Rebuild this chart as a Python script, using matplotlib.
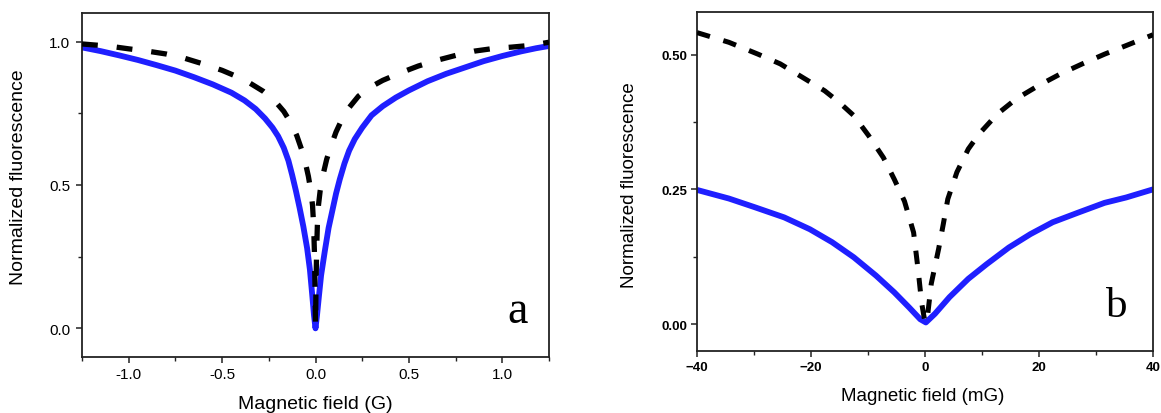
import matplotlib
matplotlib.use("Agg")
import matplotlib.pyplot as plt
from matplotlib.ticker import MultipleLocator, FormatStrFormatter

# ---------------- data: panel a (field in G) ----------------
a_blue_B = [-1.25, -1.15, -1.05, -0.95, -0.85, -0.75, -0.65, -0.55, -0.45, -0.38, -0.32, -0.27,
            -0.23, -0.20, -0.17, -0.145, -0.125, -0.105, -0.085, -0.065, -0.045, -0.03, -0.018,
            -0.008, 0.0, 0.008, 0.018, 0.03, 0.05, 0.07, 0.09, 0.11, 0.13, 0.155, 0.18, 0.21,
            0.25, 0.30, 0.36, 0.43, 0.5, 0.6, 0.7, 0.8, 0.9, 1.0, 1.1, 1.18, 1.25]
a_blue_F = [0.980, 0.967, 0.952, 0.936, 0.918, 0.899, 0.876, 0.851, 0.822, 0.795, 0.765, 0.732,
            0.700, 0.670, 0.630, 0.585, 0.535, 0.480, 0.420, 0.355, 0.280, 0.205, 0.120,
            0.045, 0.0, 0.045, 0.110, 0.185, 0.270, 0.350, 0.410, 0.470, 0.520, 0.575, 0.620, 0.660,
            0.700, 0.743, 0.775, 0.805, 0.830, 0.862, 0.888, 0.910, 0.932, 0.950, 0.966, 0.977, 0.985]

a_black_B = [-1.25, -1.1, -1.0, -0.9, -0.8, -0.7, -0.6, -0.5, -0.42, -0.35, -0.28, -0.22, -0.17,
             -0.13, -0.10, -0.075, -0.055, -0.038, -0.025, -0.016, -0.010, -0.006, -0.003, 0.0,
             0.003, 0.006, 0.010, 0.016, 0.025, 0.04, 0.06, 0.085, 0.11, 0.14, 0.18, 0.23, 0.29,
             0.36, 0.45, 0.55, 0.65, 0.75, 0.85, 0.95, 1.05, 1.15, 1.25]
a_black_F = [0.992, 0.984, 0.975, 0.967, 0.957, 0.942, 0.922, 0.900, 0.878, 0.855, 0.827, 0.795, 0.757,
             0.715, 0.672, 0.625, 0.580, 0.530, 0.480, 0.430, 0.360, 0.270, 0.160, 0.010,
             0.160, 0.270, 0.360, 0.430, 0.480, 0.535, 0.590, 0.640, 0.685, 0.727, 0.770, 0.810, 0.840,
             0.865, 0.890, 0.915, 0.935, 0.952, 0.967, 0.976, 0.981, 0.987, 0.998]

# ---------------- data: panel b (field in mG) ----------------
b_blue_B = [-40, -34.4, -29.9, -24.7, -20.2, -16.3, -12.5, -8.6, -5.4, -2.8, -0.84, 0.15,
            1.74, 4.3, 7.6, 10.8, 14.7, 18.5, 22.4, 26.9, 31.5, 35.3, 40]
b_blue_F = [0.249, 0.233, 0.217, 0.198, 0.176, 0.152, 0.124, 0.090, 0.059, 0.031, 0.009, 0.003,
            0.019, 0.050, 0.084, 0.111, 0.142, 0.167, 0.189, 0.207, 0.225, 0.235, 0.250]

b_black_B = [-40, -34.4, -29.3, -25.4, -21.5, -17.6, -15.1, -12.5, -9.9, -7.3, -5.4, -3.6,
             -2.0, -1.2, -0.6, 0.0, 0.5, 1.1, 2.4, 3.2, 4.0, 5.6, 7.6, 9.5, 12.7, 16.0, 19.8,
             23.7, 27.6, 31.5, 35.3, 40]
b_black_F = [0.541, 0.523, 0.501, 0.483, 0.458, 0.433, 0.412, 0.387, 0.350, 0.309, 0.269, 0.228,
             0.170, 0.100, 0.040, 0.003, 0.020, 0.075, 0.140, 0.185, 0.232, 0.282, 0.325, 0.353,
             0.390, 0.418, 0.442, 0.464, 0.483, 0.501, 0.517, 0.537]

a_xticks = [-1.0, -0.5, 0.0, 0.5, 1.0]
a_yticks = [0.0, 0.5, 1.0]
b_xticks = [-40, -20, 0, 20, 40]
b_yticks = [0.00, 0.25, 0.50]

xlabel_a = "Magnetic field (G)"
xlabel_b = "Magnetic field (mG)"
ylabel = "Normalized fluorescence"

# ---------------- figure ----------------
plt.rcParams['font.family'] = ['Liberation Sans', 'DejaVu Sans']
W, H = 1161, 414
fig = plt.figure(figsize=(W / 100, H / 100), dpi=100)

BLUE = '#1f1fff'
axa = fig.add_axes([82 / W, 1 - 358 / H, (549 - 82) / W, (358 - 14) / H])
axb = fig.add_axes([697 / W, 1 - 352 / H, (1153 - 697) / W, (352 - 13.3) / H])

axa.plot(a_blue_B, a_blue_F, color=BLUE, lw=4.2, solid_joinstyle='round',
         solid_capstyle='round', zorder=2)
axa.plot(a_black_B, a_black_F, color='black', lw=3.8, ls=(0, (3.0, 3.6)),
         dash_capstyle='butt', zorder=3)

axb.plot(b_blue_B, b_blue_F, color=BLUE, lw=4.2, solid_joinstyle='round',
         solid_capstyle='round', zorder=2)
axb.plot(b_black_B, b_black_F, color='black', lw=3.6, ls=(0, (2.7, 2.8)),
         dash_capstyle='butt', zorder=3)

axa.set_xlim(-1.25, 1.25)
axa.set_ylim(-0.1, 1.1)
axb.set_xlim(-40, 40)
axb.set_ylim(-0.05, 0.5787)

for ax in (axa, axb):
    for s in ax.spines.values():
        s.set_linewidth(1.3)
        s.set_color('#222222')
    ax.tick_params(which='major', direction='out', length=4.5, width=1.1,
                   top=False, right=False, colors='#222222')
    ax.tick_params(which='minor', direction='out', length=3.0, width=1.0,
                   top=False, right=False, colors='#222222')

axa.set_xticks(a_xticks)
axa.set_yticks(a_yticks)
axa.xaxis.set_minor_locator(MultipleLocator(0.25))
axa.yaxis.set_minor_locator(MultipleLocator(0.25))
axa.xaxis.set_major_formatter(FormatStrFormatter('%.1f'))
axa.yaxis.set_major_formatter(FormatStrFormatter('%.1f'))
axa.tick_params(axis='x', which='major', labelsize=11, pad=3, labelcolor='black')
axa.tick_params(axis='y', which='major', labelsize=11, pad=4, labelcolor='black')

axb.set_xticks(b_xticks)
axb.set_yticks(b_yticks)
axb.xaxis.set_minor_locator(MultipleLocator(10))
axb.yaxis.set_minor_locator(MultipleLocator(0.125))
axb.yaxis.set_major_formatter(FormatStrFormatter('%.2f'))
axb.tick_params(axis='both', which='major', labelsize=9.5, pad=2.5, labelcolor='black')
for lab in axb.get_xticklabels() + axb.get_yticklabels():
    lab.set_fontweight('bold')

# axis labels
fig.text(315 / W, 1 - 405 / H, xlabel_a, ha='center', va='center', fontsize=14)
fig.text(18.7 / W, 1 - 177.5 / H, ylabel, ha='center', va='center', rotation=90, fontsize=14)
fig.text(923 / W, 1 - 397 / H, xlabel_b, ha='center', va='center', fontsize=13.5)
fig.text(629 / W, 1 - 185 / H, ylabel, ha='center', va='center', rotation=90, fontsize=13.5)

# panel letters
fig.text(517.5 / W, 1 - 323 / H, 'a', ha='center', va='baseline', fontsize=33,
         family=['Liberation Serif', 'DejaVu Serif'])
fig.text(1117 / W, 1 - 317 / H, 'b', ha='center', va='baseline', fontsize=31,
         family=['Liberation Serif', 'DejaVu Serif'])

fig.savefig('out.png', dpi=100)
